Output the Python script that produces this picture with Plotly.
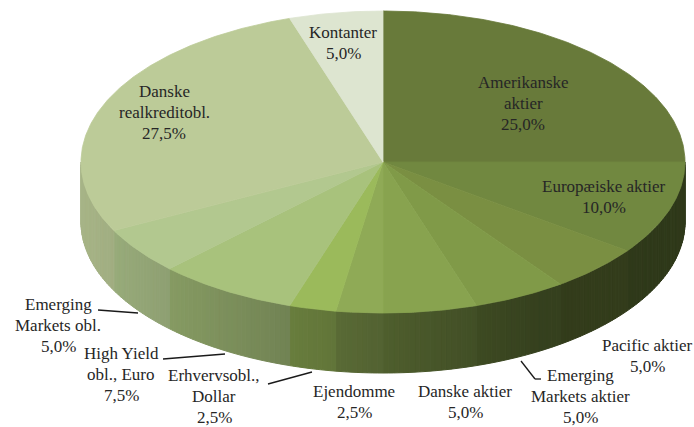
import numpy as np
import plotly.graph_objects as go

# ---- data ----
categories = ["Amerikanske aktier", "Europæiske aktier", "Pacific aktier",
              "Emerging Markets aktier", "Danske aktier", "Ejendomme",
              "Erhvervsobl., Dollar", "High Yield obl., Euro",
              "Emerging Markets obl.", "Danske realkreditobl.", "Kontanter"]
values = [25.0, 10.0, 5.0, 5.0, 5.0, 2.5, 2.5, 7.5, 5.0, 27.5, 5.0]
label_text = ["Amerikanske<br>aktier", "Europæiske aktier", "Pacific aktier",
              "Emerging<br>Markets aktier", "Danske aktier", "Ejendomme",
              "Erhvervsobl.,<br>Dollar", "High Yield<br>obl., Euro",
              "Emerging<br>Markets obl.", "Danske<br>realkreditobl.", "Kontanter"]

# ---- style / layout ----
colors = ["#687a3a", "#718840", "#7a8f42", "#809a48", "#88a34f", "#8faa56",
          "#9bba5b", "#a8c27c", "#b2c88f", "#bccb98", "#dde5d0"]
label_pos = [(523, 103), (604, 197), (647, 356), (580, 396), (465, 402),
             (354, 402), (214, 396), (121, 374), (58, 325), (164, 112), (343, 43)]
LINE_H = 21
leaders = {
    3: [(521, 361), (535, 379), (541, 379)],
    6: [(268, 384), (312, 372)],
    7: [(163, 359), (225, 354)],
    8: [(98, 310), (138, 313)],
}
W, H = 694, 427
CX, CY, RX, RY, DEPTH = 383, 162, 302, 151, 60
FONT = "Liberation Serif, DejaVu Serif, Times New Roman, serif"


def pt(theta_deg):
    t = np.radians(theta_deg)
    return CX + RX * np.sin(t), CY - RY * np.cos(t)


def shade(hexcol, f):
    h = hexcol.lstrip("#")
    r, g, b = (int(h[i:i + 2], 16) for i in (0, 2, 4))
    return "rgb(%d,%d,%d)" % (r * f, g * f, b * f)


def side_factor(x):
    t = (x - (CX - RX)) / (2 * RX)
    return max(0.42, 0.89 - 0.62 * t)


total = sum(values)
cum = np.concatenate([[0], np.cumsum(values)]) / total * 360.0

fig = go.Figure()

# sides (front half only)
for i, col in enumerate(colors):
    a0, a1 = max(cum[i], 90.0), min(cum[i + 1], 270.0)
    if a0 >= a1:
        continue
    n = int(np.ceil((a1 - a0) / 1.0))
    ths = np.linspace(a0, a1, n + 1)
    for k in range(n):
        x1, y1 = pt(ths[k])
        x2, y2 = pt(ths[k + 1])
        c = shade(col, side_factor((x1 + x2) / 2))
        fig.add_trace(go.Scatter(
            x=[x1, x2, x2, x1, x1], y=[y1, y2, y2 + DEPTH, y1 + DEPTH, y1],
            mode="lines", fill="toself", fillcolor=c,
            line=dict(color=c, width=1), hoverinfo="skip", showlegend=False))

# top face
for i, col in enumerate(colors):
    ths = np.linspace(cum[i], cum[i + 1], max(3, int((cum[i + 1] - cum[i]) * 2)))
    xs, ys = [CX], [CY]
    for th in ths:
        x, y = pt(th)
        xs.append(x)
        ys.append(y)
    xs.append(CX)
    ys.append(CY)
    fig.add_trace(go.Scatter(
        x=xs, y=ys, mode="lines", fill="toself", fillcolor=col,
        line=dict(color=col, width=0.8), name=categories[i],
        hoverinfo="text", text=f"{categories[i]}: {values[i]}%", showlegend=False))

# labels (one annotation per text line for exact line spacing)
annotations = []
for i, (lx, ly) in enumerate(label_pos):
    pct = f"{values[i] / total * 100:.1f}%".replace(".", ",")
    lines = label_text[i].split("<br>") + [pct]
    n = len(lines)
    for j, line in enumerate(lines):
        annotations.append(dict(x=lx, y=ly + (j - (n - 1) / 2) * LINE_H,
                                xref="x", yref="y", text=line, showarrow=False,
                                xanchor="center", yanchor="middle", align="center",
                                font=dict(family=FONT, size=17, color="#262626")))

shapes = []
for pts in leaders.values():
    for (xa, ya), (xb, yb) in zip(pts[:-1], pts[1:]):
        shapes.append(dict(type="line", x0=xa, y0=ya, x1=xb, y1=yb, xref="x", yref="y",
                           line=dict(color="#1a1a1a", width=1.3)))

fig.update_layout(
    width=W, height=H, margin=dict(l=0, r=0, t=0, b=0),
    paper_bgcolor="white", plot_bgcolor="white",
    font=dict(family=FONT),
    xaxis=dict(range=[0, W], visible=False, fixedrange=True),
    yaxis=dict(range=[H, 0], visible=False, fixedrange=True),
    annotations=annotations, shapes=shapes, showlegend=False,
)

fig.write_html("out.html", config={"displayModeBar": False},
               post_script="document.body.style.margin='0';document.body.style.overflow='hidden';")
